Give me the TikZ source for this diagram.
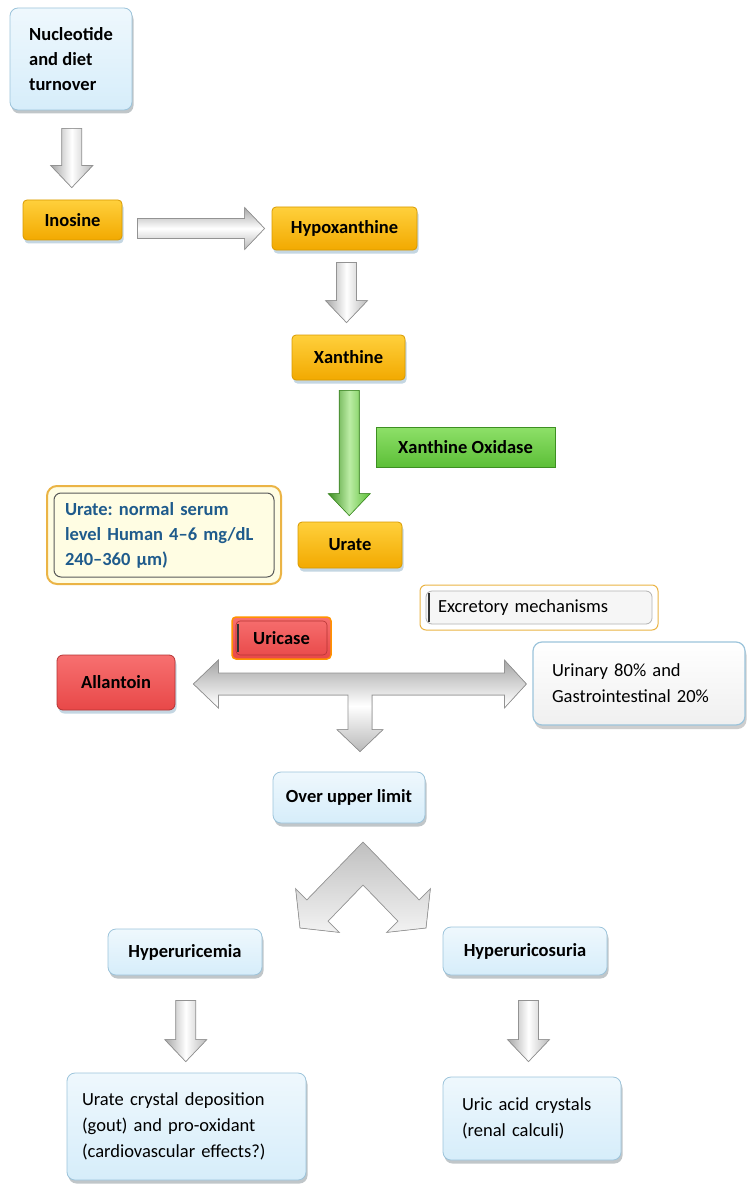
\documentclass[tikz,border=0pt]{standalone}
\usepackage{fontspec}
\setmainfont{Carlito}
\usepackage{tikz}
\usetikzlibrary{calc,shadows}
\frenchspacing

\definecolor{boxblue}{HTML}{D6EDFA}
\definecolor{boxblueedge}{HTML}{9CC4DB}
\definecolor{shadowblue}{HTML}{8AAFC6}
\definecolor{goldtop}{HTML}{FFD03C}
\definecolor{goldbot}{HTML}{F2A900}
\definecolor{goldedge}{HTML}{D89A00}
\definecolor{redtop}{HTML}{F77070}
\definecolor{redbot}{HTML}{E84848}
\definecolor{rededge}{HTML}{B53434}
\definecolor{greentop}{HTML}{8EE069}
\definecolor{greenbot}{HTML}{5CBF37}
\definecolor{greenedge}{HTML}{3D8F22}
\definecolor{cream}{HTML}{FFFDE3}
\definecolor{creamedge}{HTML}{EBB445}
\definecolor{serumtext}{HTML}{1F5B8C}

\tikzset{
  txt/.style={font=\fontsize{18.5}{26}\selectfont},
  btxt/.style={font=\fontsize{18.5}{25}\selectfont\bfseries},
  basebox/.style={rectangle, align=left, inner sep=0pt, line width=0.8pt},
  bluebox/.style={basebox, rounded corners=8pt, draw=boxblueedge, top color=boxblue!40, bottom color=boxblue,
    drop shadow={shadow xshift=1.5pt, shadow yshift=-3.5pt, fill=gray!70!shadowblue}},
  goldbox/.style={basebox, btxt, rounded corners=4pt, draw=goldedge, top color=goldtop, bottom color=goldbot,
    drop shadow={shadow xshift=1.5pt, shadow yshift=-3.5pt, fill=shadowblue}},
  redbox/.style={basebox, btxt, rounded corners=6pt, draw=rededge, top color=redtop, bottom color=redbot,
    drop shadow={shadow xshift=1.5pt, shadow yshift=-3.5pt, fill=shadowblue}},
  greenbox/.style={basebox, btxt, draw=greenedge, top color=greentop, bottom color=greenbot},
  grayv/.style={draw=gray!85, line width=0.7pt, left color=gray!70, right color=gray!55, middle color=white},
  grayh/.style={draw=gray!85, line width=0.7pt, top color=gray!70, bottom color=gray!55, middle color=white},
  greenv/.style={draw=greenedge, line width=0.6pt, left color=greenedge, right color=greenbot, middle color=greentop!60!white},
  chevron/.style={draw=gray!80, line width=0.7pt, top color=gray!50, bottom color=gray!10},
}

% block arrows: style, from node, to node, gap at start, gap at end
\newcommand{\downblock}[5]{%
  \filldraw[#1] let \p1=(#2.south), \p2=(#3.north), \p3=($(#2.south)!0.5!(#3.north)$) in
    (\x3-10pt,\y1-#4pt) -- (\x3+10pt,\y1-#4pt) -- (\x3+10pt,\y2+#5pt+22pt) -- (\x3+21pt,\y2+#5pt+22pt)
    -- (\x3,\y2+#5pt) -- (\x3-21pt,\y2+#5pt+22pt) -- (\x3-10pt,\y2+#5pt+22pt) -- cycle;}
\newcommand{\rightblock}[5]{%
  \filldraw[#1] let \p1=(#2.east), \p2=(#3.west) in
    (\x1+#4pt,\y2+10pt) -- (\x2-#5pt-20pt,\y2+10pt) -- (\x2-#5pt-20pt,\y2+21pt) -- (\x2-#5pt,\y2)
    -- (\x2-#5pt-20pt,\y2-21pt) -- (\x2-#5pt-20pt,\y2-10pt) -- (\x1+#4pt,\y2-10pt) -- cycle;}

\begin{document}
\begin{tikzpicture}[x=1pt, y=-1pt]
  \path[use as bounding box, fill=white] (0,0) rectangle (754,1190);

  % synthesis
  \node[bluebox, btxt, minimum width=122pt, minimum height=102pt] (nuc) at (71,59) {Nucleotide\\and diet\\turnover};
  \node[goldbox, minimum width=99pt, minimum height=40pt] (ino) at (72.5,220) {Inosine};
  \node[goldbox, minimum width=145pt, minimum height=43pt] (hypo) at (344.5,228.5) {Hypoxanthine};
  \node[goldbox, minimum width=113pt, minimum height=45pt] (xan) at (348.5,357.5) {Xanthine};
  \node[greenbox, minimum width=179pt, minimum height=40pt] (xo) at (465.5,447) {Xanthine Oxidase};
  \node[goldbox, minimum width=104pt, minimum height=46pt] (urate) at (350,545) {Urate};
  \node[basebox, btxt, text=serumtext, rounded corners=10pt, draw=creamedge, line width=2pt, fill=cream,
    minimum width=234pt, minimum height=98pt, text width=198pt,
    path picture={\draw[black!65, line width=1pt, rounded corners=7pt]
      ([xshift=7pt,yshift=-7pt]path picture bounding box.north west) rectangle
      ([xshift=-7pt,yshift=7pt]path picture bounding box.south east);}]
    (serum) at (164,535) {Urate: normal serum\\level Human 4–6 mg/dL\\240–360 µm)};

  % fate of urate
  \node[basebox, txt, rounded corners=6pt, draw=creamedge, line width=1pt, fill=white,
    minimum width=238pt, minimum height=45pt, text width=202pt,
    path picture={\draw[gray!60, fill=gray!7, line width=0.8pt]
      ([xshift=6pt,yshift=-6pt]path picture bounding box.north west) rectangle
      ([xshift=-6pt,yshift=6pt]path picture bounding box.south east);
      \draw[black!80, line width=2.5pt]
      ([xshift=9pt,yshift=-8pt]path picture bounding box.north west) --
      ([xshift=9pt,yshift=8pt]path picture bounding box.south west);}]
    (excr) at (539,607.5) {Excretory mechanisms};
  \node[basebox, btxt, rounded corners=4pt, draw=orange!85!yellow, line width=1.5pt, top color=redtop, bottom color=redbot,
    minimum width=99pt, minimum height=42pt,
    path picture={\draw[rededge, line width=0.6pt]
      ([xshift=4pt,yshift=-4pt]path picture bounding box.north west) rectangle
      ([xshift=-4pt,yshift=4pt]path picture bounding box.south east);
      \draw[black!80, line width=2pt]
      ([xshift=6pt,yshift=-7pt]path picture bounding box.north west) --
      ([xshift=6pt,yshift=7pt]path picture bounding box.south west);}]
    (uric) at (281.5,638) {Uricase};
  \node[redbox, minimum width=118pt, minimum height=55pt] (allan) at (116,682.5) {Allantoin};
  \node[basebox, txt, rounded corners=9pt, draw=boxblueedge, line width=1.2pt, top color=white, bottom color=gray!12,
    minimum width=212pt, minimum height=83pt, text width=174pt,
    drop shadow={shadow xshift=1.5pt, shadow yshift=-4pt, fill=gray!75}]
    (urin) at (639,683.5) {Urinary 80\% and\\Gastrointestinal 20\%};
  \node[bluebox, btxt, minimum width=152pt, minimum height=51pt] (over) at (349,797.5) {Over upper limit};

  % consequences
  \node[bluebox, btxt, minimum width=154pt, minimum height=46pt] (hyc) at (185,952) {Hyperuricemia};
  \node[bluebox, btxt, minimum width=164pt, minimum height=48pt] (hys) at (525,951) {Hyperuricosuria};
  \node[bluebox, txt, minimum width=239pt, minimum height=107pt, text width=209pt] (gout) at (186.5,1126.5)
    {Urate crystal deposition\\(gout) and pro-oxidant\\(cardiovascular effects?)};
  \node[bluebox, txt, minimum width=178pt, minimum height=83pt, text width=140pt] (calc) at (532,1118.5)
    {Uric acid crystals\\(renal calculi)};

  \coordinate (tee) at (360,684);
  \coordinate (fork) at (363,863.5);

  % arrows
  \downblock{grayv}{nuc}{ino}{18}{12}
  \rightblock{grayh}{ino}{hypo}{15}{7}
  \downblock{grayv}{hypo}{xan}{12}{12}
  \downblock{greenv}{xan}{urate}{10}{6}
  \downblock{grayv}{hyc}{gout}{25}{11}
  \downblock{grayv}{hys}{calc}{25}{15}

  \filldraw[grayh] let \p1=(allan.east), \p2=(urin.west), \p3=(tee), \p4=(over.north) in
    (\x1+18pt,\y3) -- (\x1+43pt,\y3+24pt) -- (\x1+43pt,\y3+11pt) -- (\x2-28pt,\y3+11pt)
    -- (\x2-28pt,\y3+24pt) -- (\x2-6pt,\y3) -- (\x2-28pt,\y3-24pt) -- (\x2-28pt,\y3-11pt)
    -- (\x3+12pt,\y3-11pt) -- (\x3+12pt,\y4+42pt) -- (\x3+23pt,\y4+42pt) -- (\x3,\y4+20pt)
    -- (\x3-23pt,\y4+42pt) -- (\x3-12pt,\y4+42pt) -- (\x3-12pt,\y3-11pt) -- (\x1+43pt,\y3-11pt)
    -- (\x1+43pt,\y3-24pt) -- cycle;

  \filldraw[chevron] ($(fork)+(0,-21.5)$) -- ($(fork)+(-56.1,36.4)$) -- ($(fork)+(-67.4,25.1)$)
    -- ($(fork)+(-63,64.5)$) -- ($(fork)+(-23.6,68.9)$) -- ($(fork)+(-34.9,57.6)$)
    -- ($(fork)+(0,21.5)$) -- ($(fork)+(34.9,57.6)$) -- ($(fork)+(23.6,68.9)$)
    -- ($(fork)+(63,64.5)$) -- ($(fork)+(67.4,25.1)$) -- ($(fork)+(56.1,36.4)$) -- cycle;
\end{tikzpicture}
\end{document}
